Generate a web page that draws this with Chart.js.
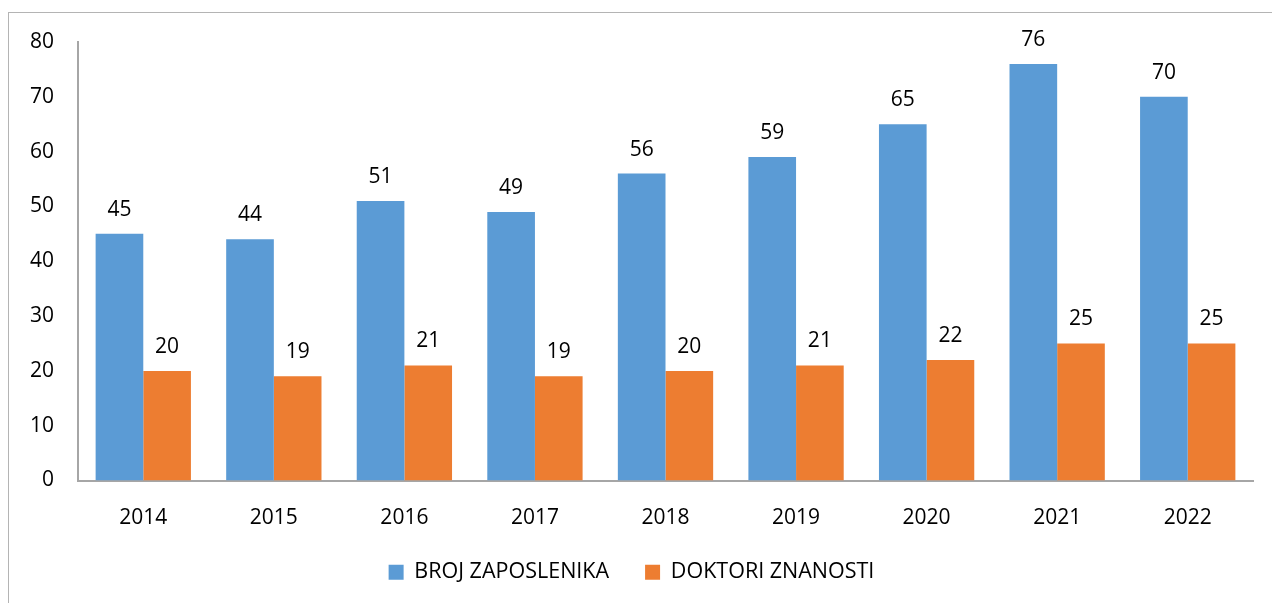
<!DOCTYPE html>
<html>
<head>
<meta charset="utf-8">
<script src="https://cdn.jsdelivr.net/npm/chart.js@4/dist/chart.umd.min.js"></script>
<style>
  html, body { margin: 0; padding: 0; background: #fff; }
  #wrap { position: relative; width: 1272px; height: 603px; }
  #frame { position: absolute; left: 8px; top: 12px; width: 1280px; height: 600px;
           border-left: 1px solid #b4b4b4; border-top: 1px solid #b4b4b4; }
  canvas { position: absolute; left: 0; top: 0; }
</style>
</head>
<body>
<div id="wrap">
  <div id="frame"></div>
  <canvas id="chart" width="1272" height="603"></canvas>
</div>
<script>
const years = ["2014", "2015", "2016", "2017", "2018", "2019", "2020", "2021", "2022"];
const brojZaposlenika = [45, 44, 51, 49, 56, 59, 65, 76, 70];
const doktoriZnanosti = [20, 19, 21, 19, 20, 21, 22, 25, 25];
const yTicks = [0, 10, 20, 30, 40, 50, 60, 70, 80];

const FONT = "'Open Sans', 'Liberation Sans', sans-serif";

// labels above each bar
const valueLabels = {
  id: "valueLabels",
  afterDatasetsDraw(chart) {
    const ctx = chart.ctx;
    ctx.save();
    ctx.font = "21px " + FONT;
    ctx.fillStyle = "#000";
    ctx.textAlign = "center";
    ctx.textBaseline = "middle";
    chart.data.datasets.forEach((ds, i) => {
      chart.getDatasetMeta(i).data.forEach((bar, j) => {
        ctx.fillText(ds.data[j], bar.x, bar.y - 24);
      });
    });
    ctx.restore();
  }
};

new Chart(document.getElementById("chart"), {
  type: "bar",
  data: {
    labels: years,
    datasets: [
      { label: "BROJ ZAPOSLENIKA", data: brojZaposlenika, backgroundColor: "#5b9bd5" },
      { label: "DOKTORI ZNANOSTI", data: doktoriZnanosti, backgroundColor: "#ed7d31" }
    ]
  },
  options: {
    responsive: false,
    animation: false,
    layout: { padding: { top: 42, right: 9, left: 0, bottom: 10 } },
    datasets: { bar: { categoryPercentage: 0.73, barPercentage: 1.0 } },
    scales: {
      x: {
        afterFit(scale) { scale.height = 45; },
        grid: { display: false, drawTicks: false },
        border: { display: true, color: "#a6a6a6", width: 2 },
        ticks: { color: "#000", font: { family: FONT, size: 21 }, padding: 25 }
      },
      y: {
        min: 0, max: 80,
        afterBuildTicks(scale) { scale.ticks = yTicks.map(v => ({ value: v })); },
        afterFit(scale) { scale.width = 78; },
        grid: { display: false, drawTicks: false },
        border: { display: true, color: "#a6a6a6", width: 2 },
        ticks: { color: "#000", font: { family: FONT, size: 21 }, padding: 24 }
      },
      spacer: {
        position: "right",
        afterFit(scale) { scale.width = 10; },
        grid: { display: false, drawTicks: false },
        border: { display: false },
        ticks: { display: false }
      }
    },
    plugins: {
      legend: {
        position: "bottom",
        labels: {
          color: "#000",
          font: { family: FONT, size: 21.5 },
          boxWidth: 15, boxHeight: 15,
          padding: 36
        }
      },
      tooltip: { enabled: false }
    }
  },
  plugins: [valueLabels]
});
</script>
</body>
</html>
